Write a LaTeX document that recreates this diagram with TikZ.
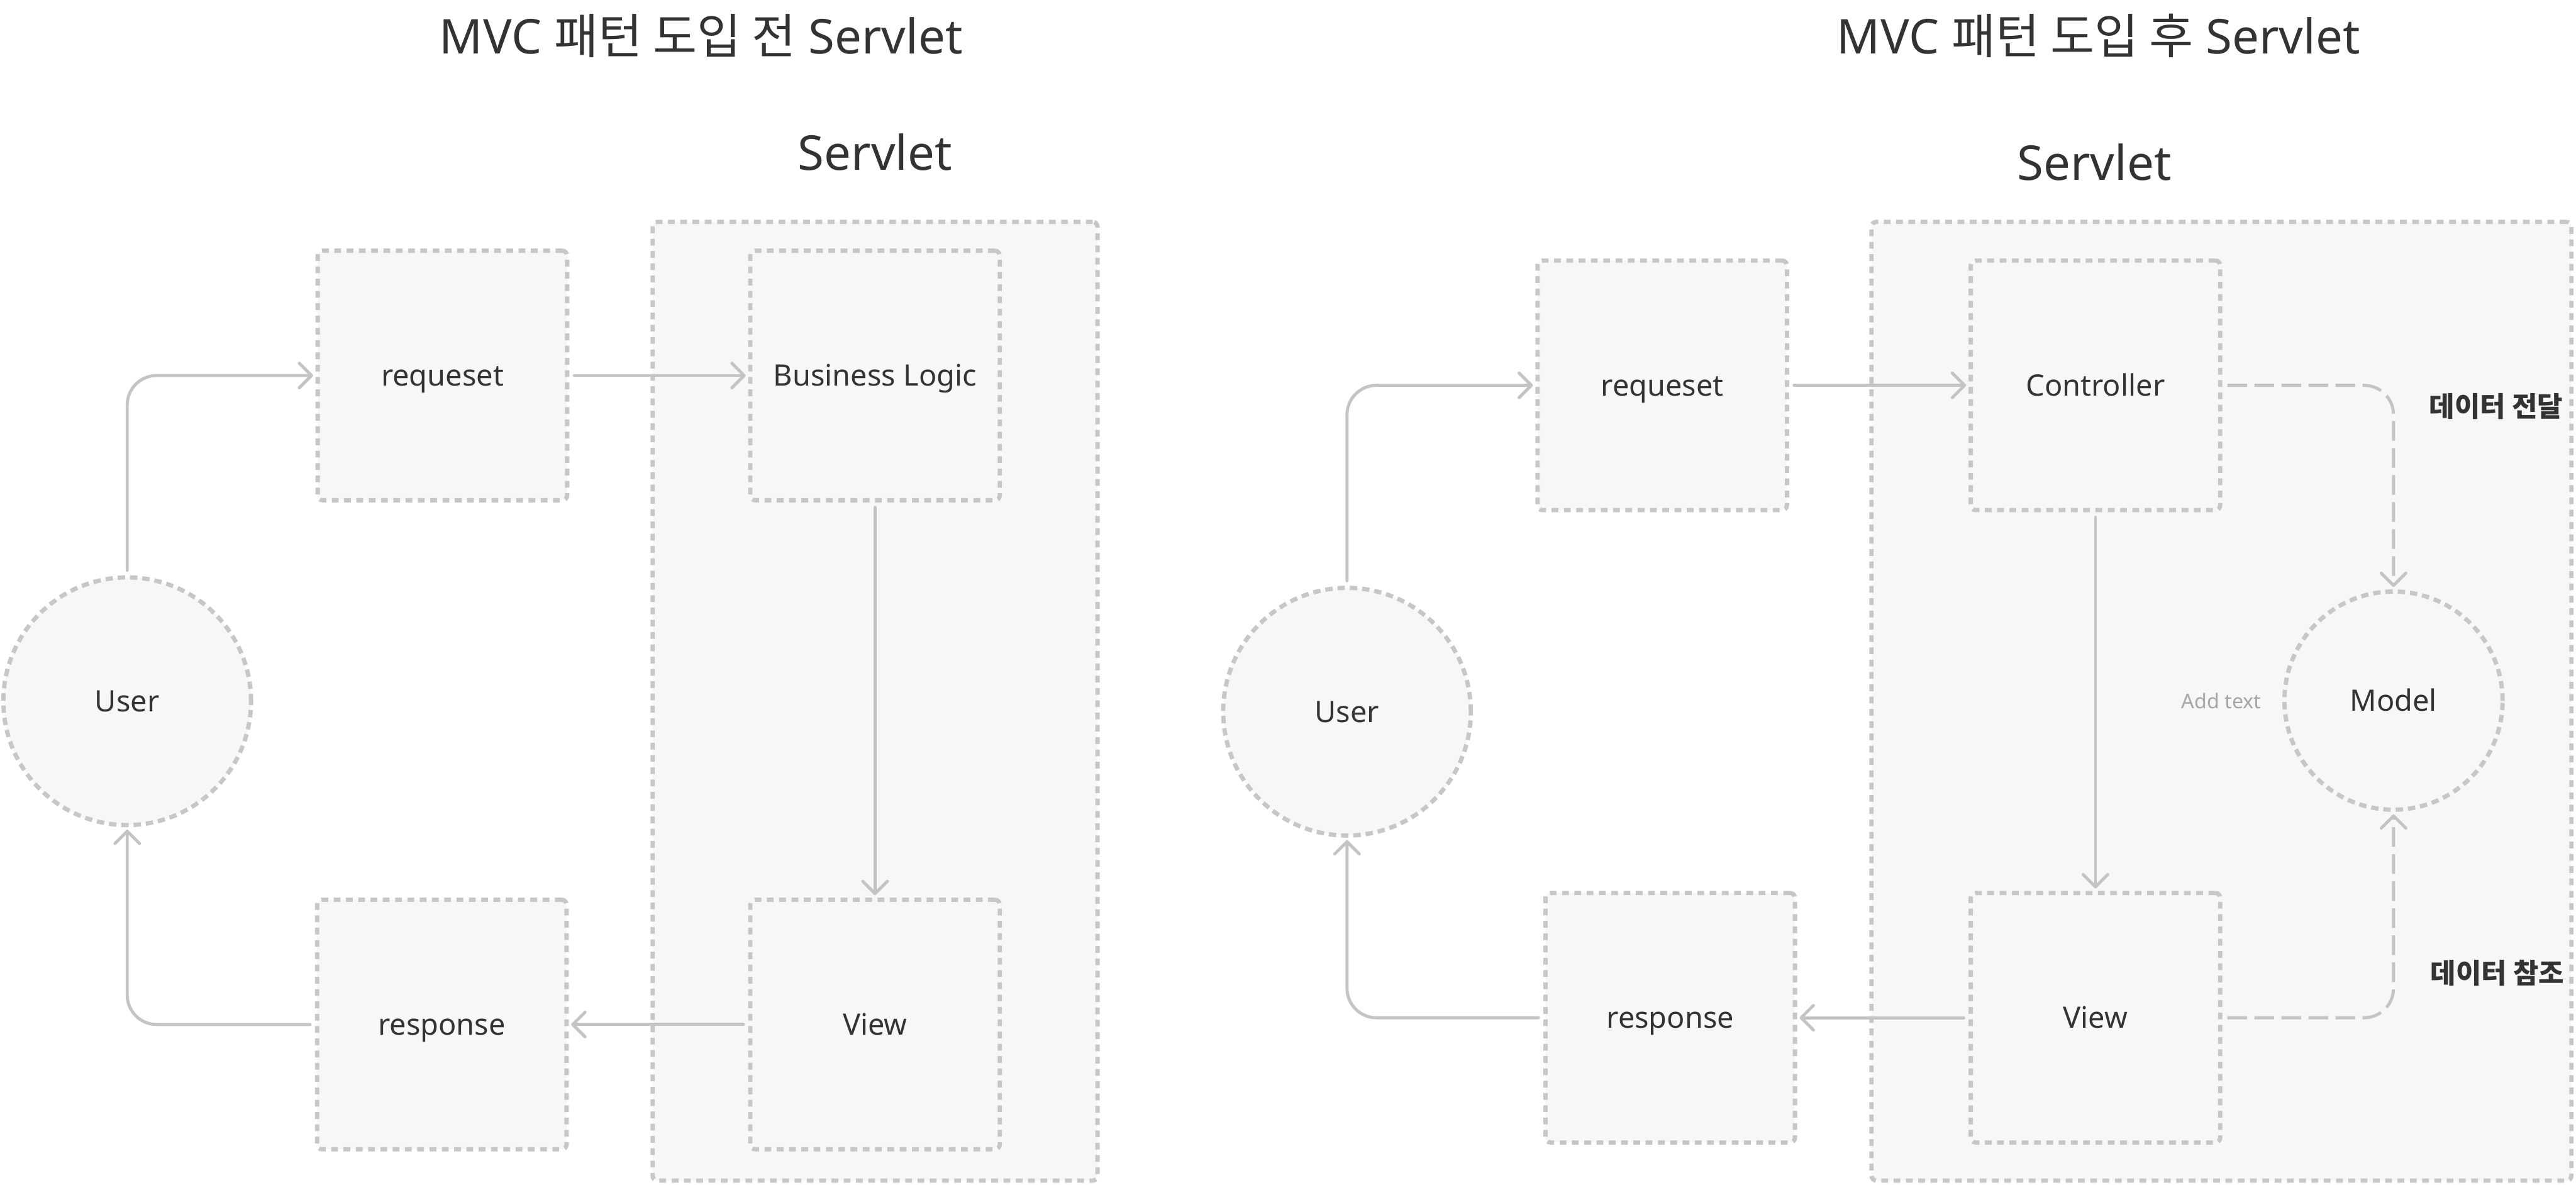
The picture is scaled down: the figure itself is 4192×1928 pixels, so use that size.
\documentclass[tikz,border=0pt]{standalone}
\usepackage{fontspec}
\setmainfont{Noto Sans}
\newfontfamily\kr{Noto Sans CJK KR}
\usetikzlibrary{arrows.meta}
\definecolor{boxfill}{HTML}{F7F7F7}
\definecolor{boxline}{HTML}{C7C7C7}
\definecolor{arrline}{HTML}{C4C4C4}
\definecolor{txtcol}{HTML}{333333}
\definecolor{hintcol}{HTML}{A6A6A6}
\begin{document}
\begin{tikzpicture}
  [x=1pt,y=-1pt,every node/.style={text=txtcol,font=\fontsize{48}{56}\selectfont},
   servlet/.style={draw=boxline,fill=boxfill,line width=7pt,dash pattern=on 11pt off 9pt,rounded corners=8pt,minimum height=1560pt},
   part/.style={draw=boxline,fill=boxfill,line width=7pt,dash pattern=on 11pt off 9pt,rounded corners=8pt,
     minimum width=406pt,minimum height=406pt,inner sep=0pt,text height=34pt,text depth=0pt},
   user/.style={circle,draw=boxline,fill=boxfill,line width=7pt,dash pattern=on 12pt off 8pt,
     minimum size=403pt,inner sep=0pt,text height=34pt,text depth=0pt},
   model/.style={user,minimum size=355pt},
   title/.style={anchor=base,font=\fontsize{78}{90}\selectfont},
   hint/.style={text=hintcol,font=\fontsize{33}{40}\selectfont},
   note/.style={font=\fontsize{45}{52}\kr\bfseries},
   arr/.style={draw=arrline,line width=5pt,line cap=round,rounded corners=48pt,
     -{Straight Barb[length=20pt,width=40pt,round]},shorten >=4pt,shorten <=8pt},
   darr/.style={arr,line cap=butt,dash pattern=on 32pt off 12pt}]
  \useasboundingbox (0,0) rectangle (4192,1928);
  \node[title] (titleA) at (1141,87) {MVC {\kr 패턴 도입 전} Servlet};
  \node[title] (titleB) at (3415,87) {MVC {\kr 패턴 도입 후} Servlet};
  \node[title] (labA) at (1424,277) {Servlet};
  \node[title] (labB) at (3408,293) {Servlet};
  \node[servlet,minimum width=724pt] (servletA) at (1424,1141) {};
  \node[servlet,minimum width=1139pt] (servletB) at (3615,1141) {};
  \node[user] (userA) at (207,1141) {User};
  \node[part] (reqA) at (720,611) {requeset};
  \node[part] (busA) at (1424,611) {Business Logic};
  \node[part] (viewA) at (1424,1667) {View};
  \node[part] (resA) at (719,1667) {response};
  \node[user] (userB) at (2192,1158) {User};
  \node[part] (reqB) at (2705,627) {requeset};
  \node[part] (ctrl) at (3410,627) {Controller};
  \node[part] (viewB) at (3410,1656) {View};
  \node[part] (resB) at (2718,1656) {response};
  \node[model] (model) at (3895,1140) {Model};
  \node[hint] (hintM) at (3615,1140) {Add text};
  \node[note] (sendN) at (4062,661) {데이터 전달};
  \node[note] (refN) at (4064,1583) {데이터 참조};
  \foreach \from/\to in {reqA/busA,busA/viewA,viewA/resA,reqB/ctrl,ctrl/viewB,viewB/resB}
    \draw[arr] (\from) -- (\to);
  \draw[arr] (userA.north) |- (reqA.west);
  \draw[arr] (resA.west) -| (userA.south);
  \draw[arr] (userB.north) |- (reqB.west);
  \draw[arr] (resB.west) -| (userB.south);
  \draw[darr] (ctrl.east) -| (model.north);
  \draw[darr] (viewB.east) -| (model.south);
\end{tikzpicture}
\end{document}
